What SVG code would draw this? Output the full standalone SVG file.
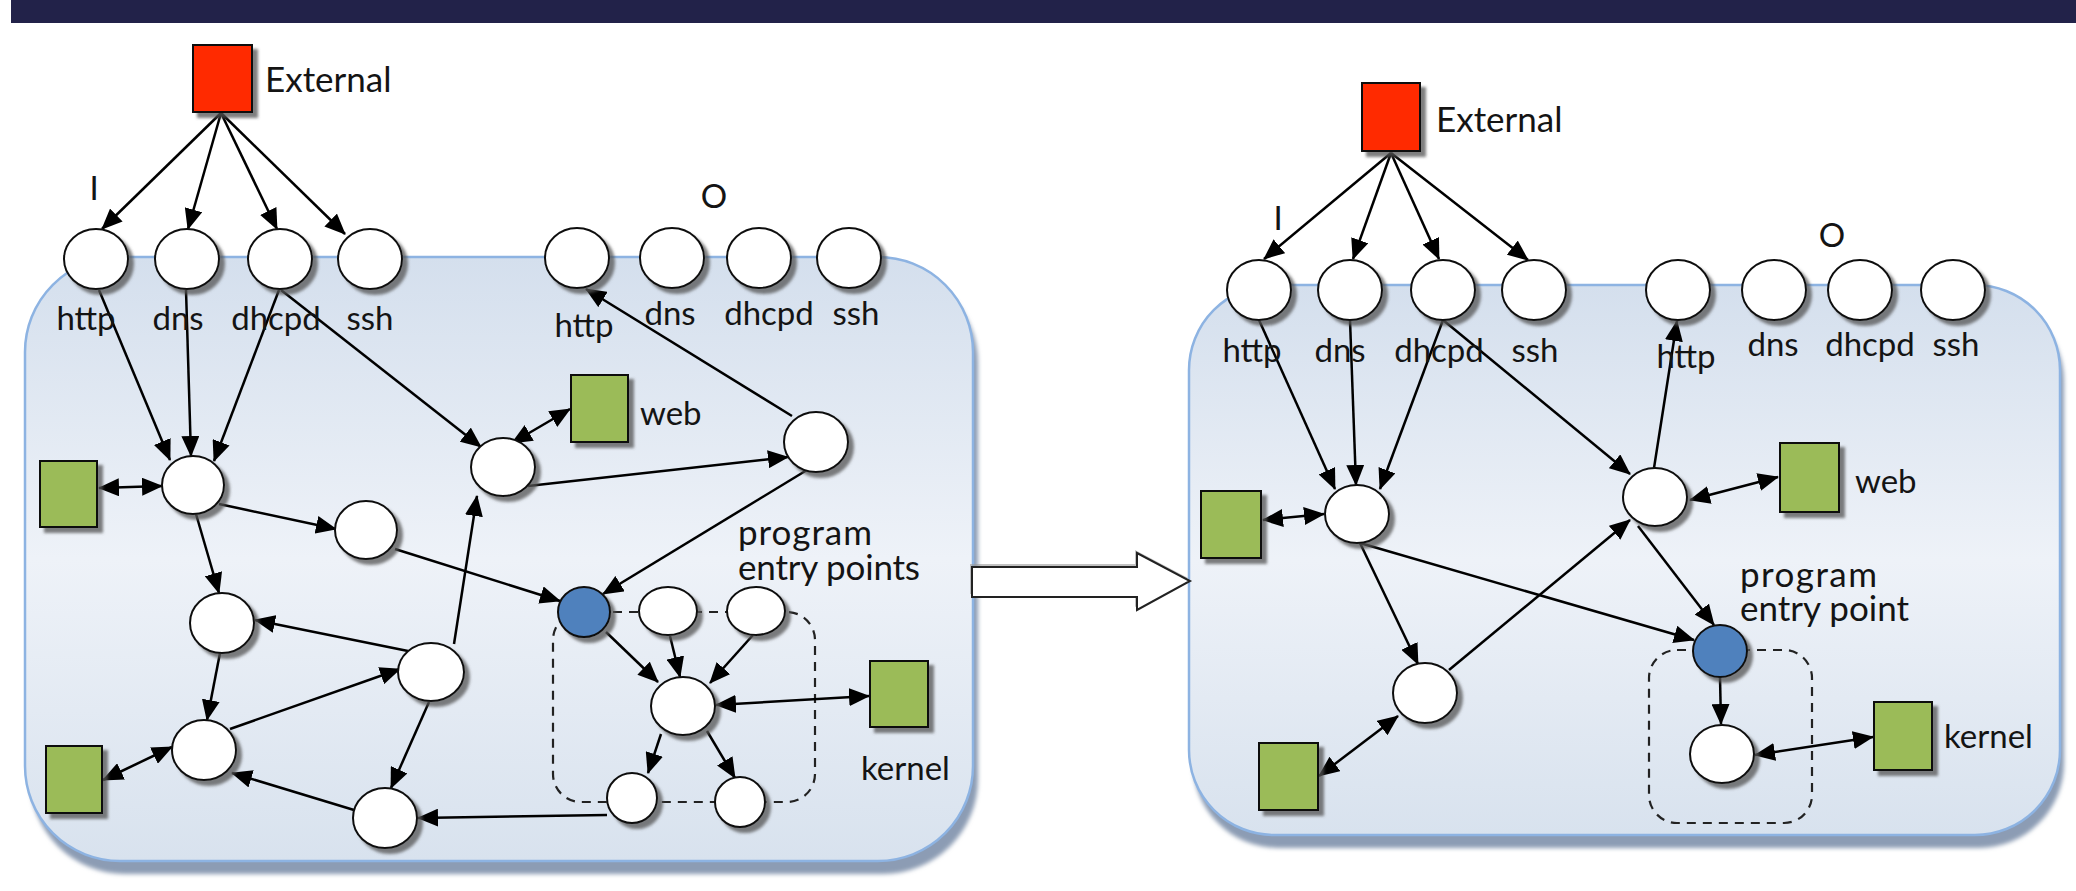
<svg xmlns="http://www.w3.org/2000/svg" width="2076" height="891" viewBox="0 0 2076 891">
<defs>
<style>
.lbl{font-family:Lato,"Open Sans","Liberation Sans",sans-serif;font-size:33px;fill:#141414}
.pe{font-size:35px}
.node{fill:#fff;stroke:#111;stroke-width:2;filter:url(#sh)}
.blue{fill:#4f81bd;stroke:#111;stroke-width:2;filter:url(#sh)}
.grn{fill:#9bbb59;stroke:#111;stroke-width:2;filter:url(#sh)}
.red{fill:#ff2a00;stroke:#111;stroke-width:2;filter:url(#sh)}
.c{stroke:#000;stroke-width:2.5;fill:none;marker-end:url(#ah)}
.b{stroke:#000;stroke-width:2.5;fill:none;marker-end:url(#ah);marker-start:url(#ah)}
.dash{fill:none;stroke:#222;stroke-width:2.2;stroke-dasharray:9 7}
.cont{fill:url(#cg);stroke:#8db3e2;stroke-width:2.5}
.csh{fill:#8c9cb4;filter:url(#bl)}
</style>
<linearGradient id="cg" x1="0" y1="0" x2="0" y2="1">
<stop offset="0" stop-color="#d4dfed"/>
<stop offset="0.5" stop-color="#eef2f8"/>
<stop offset="1" stop-color="#d8e2ee"/>
</linearGradient>
<filter id="sh" x="-30%" y="-30%" width="170%" height="170%">
<feDropShadow dx="5" dy="5" stdDeviation="1.5" flood-color="#555" flood-opacity="0.75"/>
</filter>
<filter id="bl" x="-5%" y="-5%" width="110%" height="110%">
<feGaussianBlur stdDeviation="2"/>
</filter>
<marker id="ah" viewBox="0 0 21 18" refX="20" refY="9" markerWidth="21" markerHeight="18" markerUnits="userSpaceOnUse" orient="auto-start-reverse">
<path d="M0,0 L21,9 L0,18 Z" fill="#000"/>
</marker>
</defs>
<rect x="0" y="0" width="2076" height="891" fill="#fff"/>
<rect x="11" y="0" width="2065" height="23" fill="#222249"/>

<g id="containers">
<rect class="csh" x="30" y="268" width="948" height="606" rx="95"/>
<rect class="cont" x="25" y="257" width="948" height="604" rx="95"/>
<rect class="csh" x="1193" y="296" width="871" height="552" rx="85"/>
<rect class="cont" x="1189" y="285" width="871" height="550" rx="85"/>
</g>

<g id="big-arrow">
<polygon points="970,564 1135,564 1135,550 1188,578 1135,607 1135,594 970,594" fill="#999" opacity="0.6"/>
<polygon points="972,567 1137,567 1137,553 1190,581 1137,610 1137,597 972,597" fill="#fff" stroke="#222" stroke-width="2"/>
</g>

<g id="groups">
<rect class="dash" x="553" y="612" width="262" height="190" rx="28"/>
<rect class="dash" x="1649" y="650" width="163" height="173" rx="28"/>
</g>

<g id="connectors">
<line class="c" x1="221" y1="113" x2="102" y2="229"/>
<line class="c" x1="221" y1="113" x2="188" y2="229"/>
<line class="c" x1="221" y1="113" x2="277" y2="229"/>
<line class="c" x1="221" y1="113" x2="345" y2="234"/>
<line class="c" x1="99" y1="290" x2="170" y2="460"/>
<line class="c" x1="186" y1="290" x2="191" y2="456"/>
<line class="c" x1="279" y1="290" x2="214" y2="461"/>
<line class="c" x1="281" y1="290" x2="481" y2="447"/>
<line class="b" x1="512" y1="443" x2="570" y2="409"/>
<line class="c" x1="528" y1="486" x2="788" y2="457"/>
<line class="c" x1="792" y1="416" x2="586" y2="289"/>
<line class="c" x1="807" y1="470" x2="603" y2="594"/>
<line class="c" x1="219" y1="504" x2="336" y2="529"/>
<line class="c" x1="395" y1="549" x2="560" y2="601"/>
<line class="b" x1="99" y1="488" x2="162" y2="486"/>
<line class="c" x1="196" y1="514" x2="219" y2="593"/>
<line class="c" x1="220" y1="653" x2="207" y2="720"/>
<line class="c" x1="408" y1="651" x2="255" y2="620"/>
<line class="c" x1="230" y1="729" x2="400" y2="669"/>
<line class="c" x1="454" y1="644" x2="477" y2="496"/>
<line class="c" x1="429" y1="702" x2="391" y2="788"/>
<line class="c" x1="354" y1="810" x2="232" y2="773"/>
<line class="c" x1="607" y1="815" x2="418" y2="818"/>
<line class="c" x1="606" y1="632" x2="658" y2="682"/>
<line class="c" x1="670" y1="636" x2="680" y2="677"/>
<line class="c" x1="753" y1="635" x2="710" y2="683"/>
<line class="b" x1="716" y1="705" x2="869" y2="696"/>
<line class="c" x1="661" y1="734" x2="648" y2="773"/>
<line class="c" x1="707" y1="731" x2="735" y2="778"/>
<line class="b" x1="103" y1="780" x2="172" y2="747"/>

<line class="c" x1="1391" y1="153" x2="1264" y2="259"/>
<line class="c" x1="1391" y1="153" x2="1353" y2="259"/>
<line class="c" x1="1391" y1="153" x2="1439" y2="259"/>
<line class="c" x1="1391" y1="153" x2="1528" y2="260"/>
<line class="c" x1="1259" y1="320" x2="1335" y2="489"/>
<line class="c" x1="1350" y1="320" x2="1356" y2="485"/>
<line class="c" x1="1443" y1="320" x2="1380" y2="489"/>
<line class="c" x1="1443" y1="320" x2="1630" y2="474"/>
<line class="c" x1="1654" y1="468" x2="1677" y2="321"/>
<line class="b" x1="1690" y1="500" x2="1778" y2="477"/>
<line class="b" x1="1263" y1="520" x2="1324" y2="514"/>
<line class="c" x1="1360" y1="543" x2="1418" y2="664"/>
<line class="c" x1="1449" y1="670" x2="1630" y2="520"/>
<line class="c" x1="1360" y1="543" x2="1694" y2="640"/>
<line class="c" x1="1638" y1="526" x2="1714" y2="625"/>
<line class="c" x1="1720" y1="677" x2="1721" y2="724"/>
<line class="b" x1="1755" y1="755" x2="1873" y2="737"/>
<line class="b" x1="1319" y1="776" x2="1398" y2="716"/>
</g>

<g id="left-external"><rect class="red" x="193" y="45" width="59" height="67"/><text class="lbl" x="265" y="92" style="font-size:35px">External</text></g>
<g id="left-I"><text class="lbl" x="94" y="200" text-anchor="middle">I</text></g>
<g id="left-O"><text class="lbl" x="714" y="208" text-anchor="middle">O</text></g>
<g id="left-in-http"><ellipse class="node" cx="96" cy="259" rx="32" ry="30"/><text class="lbl" x="86" y="330" text-anchor="middle">http</text></g>
<g id="left-in-dns"><ellipse class="node" cx="187" cy="259" rx="32" ry="30"/><text class="lbl" x="178" y="330" text-anchor="middle">dns</text></g>
<g id="left-in-dhcpd"><ellipse class="node" cx="280" cy="259" rx="32" ry="30"/><text class="lbl" x="276" y="330" text-anchor="middle">dhcpd</text></g>
<g id="left-in-ssh"><ellipse class="node" cx="370" cy="259" rx="32" ry="30"/><text class="lbl" x="370" y="330" text-anchor="middle">ssh</text></g>
<g id="left-out-http"><ellipse class="node" cx="577" cy="258" rx="32" ry="30"/><text class="lbl" x="584" y="337" text-anchor="middle">http</text></g>
<g id="left-out-dns"><ellipse class="node" cx="672" cy="258" rx="32" ry="30"/><text class="lbl" x="670" y="325" text-anchor="middle">dns</text></g>
<g id="left-out-dhcpd"><ellipse class="node" cx="759" cy="258" rx="32" ry="30"/><text class="lbl" x="769" y="325" text-anchor="middle">dhcpd</text></g>
<g id="left-out-ssh"><ellipse class="node" cx="849" cy="258" rx="32" ry="30"/><text class="lbl" x="856" y="325" text-anchor="middle">ssh</text></g>
<g id="left-box1"><rect class="grn" x="40" y="461" width="57" height="66"/></g>
<g id="left-box2"><rect class="grn" x="46" y="746" width="56" height="67"/></g>
<g id="left-web"><rect class="grn" x="571" y="375" width="57" height="67"/><text class="lbl" x="640" y="425">web</text></g>
<g id="left-kernel"><rect class="grn" x="870" y="661" width="58" height="66"/><text class="lbl" x="861" y="780">kernel</text></g>
<g id="left-n1"><ellipse class="node" cx="193" cy="485" rx="31" ry="29"/></g>
<g id="left-n2"><ellipse class="node" cx="366" cy="530" rx="31" ry="29"/></g>
<g id="left-n3"><ellipse class="node" cx="503" cy="467" rx="32" ry="29"/></g>
<g id="left-n4"><ellipse class="node" cx="816" cy="442" rx="32" ry="30"/></g>
<g id="left-n5"><ellipse class="node" cx="222" cy="623" rx="32" ry="30"/></g>
<g id="left-n6"><ellipse class="node" cx="431" cy="672" rx="33" ry="29"/></g>
<g id="left-n7"><ellipse class="node" cx="204" cy="750" rx="32" ry="30"/></g>
<g id="left-n8"><ellipse class="node" cx="385" cy="818" rx="32" ry="30"/></g>
<g id="left-entry"><ellipse class="blue" cx="584" cy="612" rx="26" ry="25"/><text class="lbl pe" x="738" y="545" textLength="134">program</text><text class="lbl pe" x="738" y="580" textLength="182">entry points</text></g>
<g id="left-s1"><ellipse class="node" cx="668" cy="611" rx="29" ry="24"/></g>
<g id="left-s2"><ellipse class="node" cx="756" cy="611" rx="29" ry="24"/></g>
<g id="left-c"><ellipse class="node" cx="683" cy="706" rx="32" ry="29"/></g>
<g id="left-b1"><ellipse class="node" cx="632" cy="798" rx="25" ry="25"/></g>
<g id="left-b2"><ellipse class="node" cx="740" cy="802" rx="25" ry="25"/></g>

<g id="right-external"><rect class="red" x="1362" y="83" width="58" height="68"/><text class="lbl" x="1436" y="132" style="font-size:35px">External</text></g>
<g id="right-I"><text class="lbl" x="1278" y="230" text-anchor="middle">I</text></g>
<g id="right-O"><text class="lbl" x="1832" y="247" text-anchor="middle">O</text></g>
<g id="right-in-http"><ellipse class="node" cx="1259" cy="290" rx="32" ry="30"/><text class="lbl" x="1252" y="362" text-anchor="middle">http</text></g>
<g id="right-in-dns"><ellipse class="node" cx="1350" cy="290" rx="32" ry="30"/><text class="lbl" x="1340" y="362" text-anchor="middle">dns</text></g>
<g id="right-in-dhcpd"><ellipse class="node" cx="1443" cy="290" rx="32" ry="30"/><text class="lbl" x="1439" y="362" text-anchor="middle">dhcpd</text></g>
<g id="right-in-ssh"><ellipse class="node" cx="1534" cy="290" rx="32" ry="30"/><text class="lbl" x="1535" y="362" text-anchor="middle">ssh</text></g>
<g id="right-out-http"><ellipse class="node" cx="1678" cy="290" rx="32" ry="30"/><text class="lbl" x="1686" y="368" text-anchor="middle">http</text></g>
<g id="right-out-dns"><ellipse class="node" cx="1774" cy="290" rx="32" ry="30"/><text class="lbl" x="1773" y="356" text-anchor="middle">dns</text></g>
<g id="right-out-dhcpd"><ellipse class="node" cx="1860" cy="290" rx="32" ry="30"/><text class="lbl" x="1870" y="356" text-anchor="middle">dhcpd</text></g>
<g id="right-out-ssh"><ellipse class="node" cx="1953" cy="290" rx="32" ry="30"/><text class="lbl" x="1956" y="356" text-anchor="middle">ssh</text></g>
<g id="right-box1"><rect class="grn" x="1201" y="491" width="60" height="67"/></g>
<g id="right-box2"><rect class="grn" x="1259" y="743" width="59" height="67"/></g>
<g id="right-web"><rect class="grn" x="1780" y="443" width="59" height="69"/><text class="lbl" x="1855" y="493">web</text></g>
<g id="right-kernel"><rect class="grn" x="1874" y="702" width="58" height="68"/><text class="lbl" x="1944" y="748">kernel</text></g>
<g id="right-n1"><ellipse class="node" cx="1357" cy="514" rx="32" ry="29"/></g>
<g id="right-n2"><ellipse class="node" cx="1655" cy="497" rx="32" ry="29"/></g>
<g id="right-n3"><ellipse class="node" cx="1425" cy="693" rx="32" ry="30"/></g>
<g id="right-entry"><ellipse class="blue" cx="1720" cy="651" rx="27" ry="26"/><text class="lbl pe" x="1740" y="587" textLength="137">program</text><text class="lbl pe" x="1740" y="621" textLength="169">entry point</text></g>
<g id="right-c"><ellipse class="node" cx="1722" cy="754" rx="32" ry="29"/></g>
</svg>
